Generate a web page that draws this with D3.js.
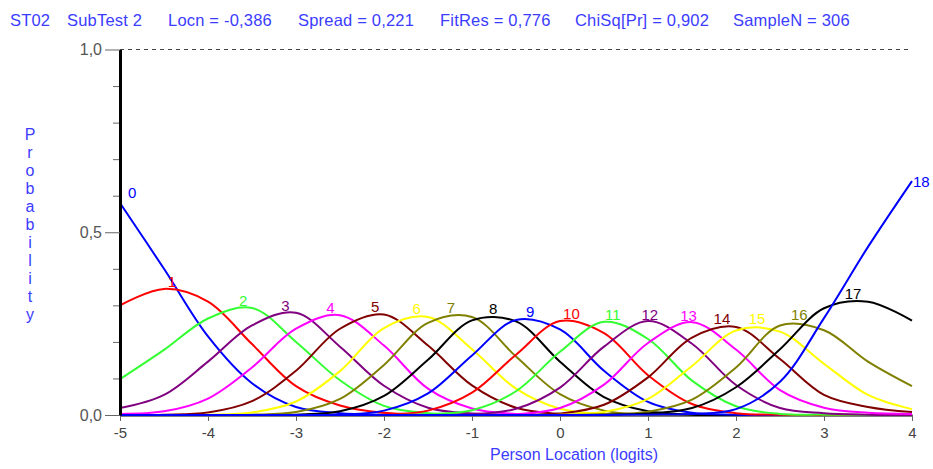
<!DOCTYPE html>
<html>
<head>
<meta charset="utf-8">
<script src="https://cdn.jsdelivr.net/npm/d3@7"></script>
<style>
  body { margin: 0; background: #fff; }
  svg { display: block; font-family: "Liberation Sans", Arial, sans-serif; }
</style>
</head>
<body>
<div id="chart"></div>
<script>
// x grid (person location, logits)
const logits = [-5, -4.5, -4, -3.5, -3, -2.5, -2, -1.5, -1, -0.5, 0, 0.5, 1, 1.5, 2, 2.5, 3, 3.5, 4];

// category probability curves
const cat0  = [0.580, 0.400, 0.215, 0.087, 0.022, 0.005, 0.001, 0, 0, 0, 0, 0, 0, 0, 0, 0, 0, 0, 0];
const cat1  = [0.300, 0.345, 0.310, 0.194, 0.079, 0.026, 0.006, 0.001, 0, 0, 0, 0, 0, 0, 0, 0, 0, 0, 0];
const cat2  = [0.098, 0.178, 0.264, 0.293, 0.200, 0.095, 0.025, 0.005, 0.001, 0, 0, 0, 0, 0, 0, 0, 0, 0, 0];
const cat3  = [0.019, 0.055, 0.146, 0.245, 0.280, 0.187, 0.080, 0.020, 0.004, 0.001, 0, 0, 0, 0, 0, 0, 0, 0, 0];
const cat4  = [0.003, 0.010, 0.045, 0.130, 0.236, 0.273, 0.190, 0.072, 0.018, 0.003, 0, 0, 0, 0, 0, 0, 0, 0, 0];
const cat5  = [0, 0.001, 0.007, 0.038, 0.121, 0.236, 0.275, 0.190, 0.081, 0.020, 0.003, 0, 0, 0, 0, 0, 0, 0, 0];
const cat6  = [0, 0, 0.001, 0.007, 0.037, 0.120, 0.238, 0.268, 0.180, 0.072, 0.017, 0.002, 0, 0, 0, 0, 0, 0, 0];
const cat7  = [0, 0, 0, 0.001, 0.008, 0.044, 0.137, 0.252, 0.268, 0.160, 0.057, 0.012, 0.001, 0, 0, 0, 0, 0, 0];
const cat8  = [0, 0, 0, 0, 0.001, 0.010, 0.052, 0.151, 0.259, 0.256, 0.146, 0.049, 0.010, 0.001, 0, 0, 0, 0, 0];
const cat9  = [0, 0, 0, 0, 0, 0.001, 0.012, 0.059, 0.163, 0.260, 0.234, 0.121, 0.036, 0.006, 0.001, 0, 0, 0, 0];
const cat10 = [0, 0, 0, 0, 0, 0, 0.001, 0.012, 0.061, 0.165, 0.257, 0.224, 0.109, 0.030, 0.005, 0.001, 0, 0, 0];
const cat11 = [0, 0, 0, 0, 0, 0, 0, 0.002, 0.013, 0.065, 0.173, 0.255, 0.208, 0.094, 0.024, 0.003, 0.001, 0, 0];
const cat12 = [0, 0, 0, 0, 0, 0, 0, 0, 0.002, 0.017, 0.075, 0.187, 0.257, 0.195, 0.082, 0.019, 0.005, 0.001, 0];
const cat13 = [0, 0, 0, 0, 0, 0, 0, 0, 0, 0.002, 0.019, 0.083, 0.197, 0.254, 0.179, 0.068, 0.020, 0.006, 0.003];
const cat14 = [0, 0, 0, 0, 0, 0, 0, 0, 0, 0, 0.004, 0.028, 0.103, 0.212, 0.241, 0.153, 0.055, 0.022, 0.008];
const cat15 = [0, 0, 0, 0, 0, 0, 0, 0, 0, 0, 0.001, 0.008, 0.044, 0.134, 0.231, 0.228, 0.140, 0.055, 0.016];
const cat16 = [0, 0, 0, 0, 0, 0, 0, 0, 0, 0, 0, 0.002, 0.009, 0.042, 0.130, 0.245, 0.232, 0.146, 0.079];
const cat17 = [0, 0, 0, 0, 0, 0, 0, 0, 0, 0, 0, 0.001, 0.004, 0.019, 0.076, 0.180, 0.292, 0.310, 0.258];
const cat18 = [0, 0, 0, 0, 0, 0, 0, 0, 0, 0, 0, 0, 0.001, 0.003, 0.016, 0.091, 0.265, 0.460, 0.640];

const categories = ["0", "1", "2", "3", "4", "5", "6", "7", "8", "9", "10", "11", "12", "13", "14", "15", "16", "17", "18"];

// where each curve label sits (peak of the curve)
const peakLogit = [-5, -4.41, -3.60, -3.12, -2.61, -2.10, -1.63, -1.24, -0.76, -0.34, 0.13, 0.60, 1.02, 1.46, 1.84, 2.24, 2.72, 3.33, 4];
const peakProb  = [0.580, 0.347, 0.296, 0.282, 0.276, 0.278, 0.273, 0.275, 0.273, 0.265, 0.261, 0.257, 0.257, 0.255, 0.246, 0.246, 0.258, 0.316, 0.640];

const xTicks = [-5, -4, -3, -2, -1, 0, 1, 2, 3, 4];
const yTicks = [0, 0.5, 1];
const yTickLabels = ["0,0", "0,5", "1,0"];
const yMinorTicks = [0.1, 0.2, 0.3, 0.4, 0.6, 0.7, 0.8, 0.9];

const titleItems = ["ST02", "SubTest 2", "Locn = -0,386", "Spread = 0,221", "FitRes = 0,776", "ChiSq[Pr] = 0,902", "SampleN = 306"];

const series = [cat0, cat1, cat2, cat3, cat4, cat5, cat6, cat7, cat8, cat9,
                cat10, cat11, cat12, cat13, cat14, cat15, cat16, cat17, cat18];

var palette = ["#0000ff", "#ff0000", "#33ff33", "#800080", "#ff00ff", "#800000", "#ffff00", "#808000", "#000000"];
var color = function (i) { return palette[i % palette.length]; };

var width = 933;
var height = 469;

var svg = d3.select("#chart")
  .append("svg")
  .attr("width", width)
  .attr("height", height);

var x = d3.scaleLinear().domain([-5, 4]).range([120, 912]);
var y = d3.scaleLinear().domain([0, 1]).range([415, 49.5]);

// title line
var titleX = [10, 67, 168, 298, 440, 575, 733];
svg.append("g")
  .selectAll("text")
  .data(titleItems)
  .enter()
  .append("text")
  .attr("x", function (d, i) { return titleX[i]; })
  .attr("y", 26)
  .style("font-size", "16.5px")
  .style("letter-spacing", "0.2px")
  .style("fill", "#3c3cff")
  .text(function (d) { return d; });

// dashed line at 1,0
svg.append("line")
  .attr("x1", x(-5))
  .attr("x2", x(4))
  .attr("y1", y(1))
  .attr("y2", y(1))
  .attr("stroke", "#444")
  .attr("stroke-width", 1.2)
  .attr("stroke-dasharray", "4,4");

// x axis
var xAxis = svg.append("g")
  .attr("transform", "translate(0," + y(0) + ")")
  .call(d3.axisBottom(x)
    .tickValues(xTicks)
    .tickSize(6)
    .tickSizeOuter(0)
    .tickPadding(6)
    .tickFormat(function (d) { return String(d); }));
xAxis.select(".domain").attr("stroke", "#000").attr("stroke-width", 2);
xAxis.selectAll(".tick line").attr("stroke", "#666");
xAxis.selectAll(".tick text")
  .style("font-size", "15px")
  .style("font-family", "Liberation Sans, Arial, sans-serif")
  .attr("fill", "#444");

svg.append("defs").append("clipPath")
  .attr("id", "plot-clip")
  .append("rect")
  .attr("x", x(-5))
  .attr("y", y(1))
  .attr("width", x(4) - x(-5) + 1)
  .attr("height", y(0) - y(1) + 1);

var line = d3.line()
  .x(function (d, i) { return x(logits[i]); })
  .y(function (d) { return y(d); })
  .curve(d3.curveCatmullRom);

svg.append("g")
  .attr("clip-path", "url(#plot-clip)")
  .selectAll(".curve")
  .data(series)
  .enter()
  .append("path")
  .attr("class", "curve")
  .attr("d", line)
  .attr("fill", "none")
  .attr("stroke", function (d, i) { return color(i); })
  .attr("stroke-width", 2);

// curve labels
svg.append("g")
  .selectAll("text")
  .data(categories)
  .enter()
  .append("text")
  .attr("x", function (d, i) {
    if (i === 0) return x(peakLogit[i]) + 8;
    if (i === categories.length - 1) return x(peakLogit[i]) + 1;
    return x(peakLogit[i]);
  })
  .attr("y", function (d, i) {
    if (i === 0) return y(peakProb[i]) - 5;
    if (i === categories.length - 1) return y(peakProb[i]) + 6;
    return y(peakProb[i]) - 1;
  })
  .attr("text-anchor", function (d, i) {
    return (i === 0 || i === categories.length - 1) ? "start" : "middle";
  })
  .style("font-size", "15px")
  .style("fill", function (d, i) { return color(i); })
  .text(function (d) { return d; });

// y axis: minor ticks, then major ticks with labels
var yMinor = svg.append("g")
  .attr("transform", "translate(" + x(-5) + ",0)")
  .call(d3.axisLeft(y).tickValues(yMinorTicks).tickSize(7).tickSizeOuter(0).tickFormat(""));
yMinor.select(".domain").remove();
yMinor.selectAll(".tick line").attr("stroke", "#666");

var yAxis = svg.append("g")
  .attr("transform", "translate(" + x(-5) + ",0)")
  .call(d3.axisLeft(y)
    .tickValues(yTicks)
    .tickSize(15)
    .tickSizeOuter(0)
    .tickPadding(3)
    .tickFormat(function (d, i) { return yTickLabels[i]; }));
yAxis.select(".domain").attr("stroke", "#000").attr("stroke-width", 3);
yAxis.selectAll(".tick line").attr("stroke", "#666");
yAxis.selectAll(".tick text")
  .style("font-size", "16px")
  .style("font-family", "Liberation Sans, Arial, sans-serif")
  .attr("fill", "#555");

// axis titles
svg.append("text")
  .attr("x", 574)
  .attr("y", 460)
  .attr("text-anchor", "middle")
  .style("font-size", "16px")
  .style("fill", "#3c3cff")
  .text("Person Location (logits)");

var yLabel = "Probability".split("");
svg.append("g")
  .selectAll("text")
  .data(yLabel)
  .enter()
  .append("text")
  .attr("x", 30)
  .attr("y", function (d, i) { return 140 + i * 18; })
  .attr("text-anchor", "middle")
  .style("font-size", "16px")
  .style("fill", "#3c3cff")
  .text(function (d) { return d; });
</script>
</body>
</html>
